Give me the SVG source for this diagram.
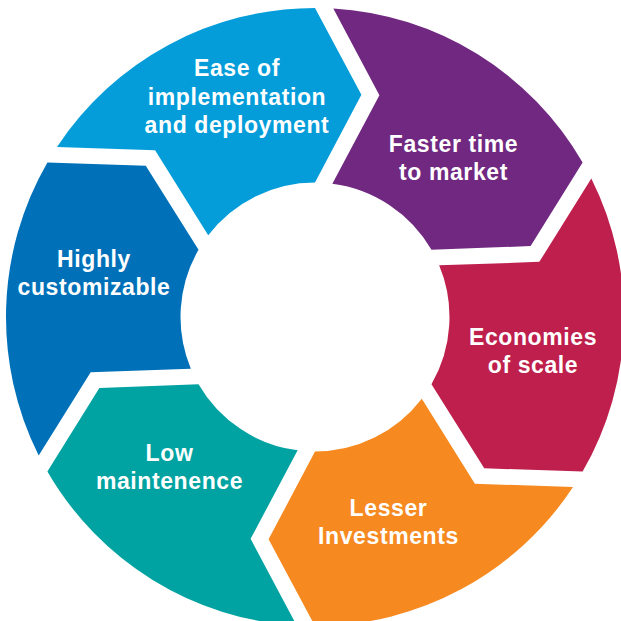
<svg xmlns="http://www.w3.org/2000/svg" xmlns:xlink="http://www.w3.org/1999/xlink" width="621" height="621" viewBox="0 0 621 621">
  <style>
    .lbl { font-family: "Liberation Sans", Arial, sans-serif; font-weight: bold; font-size: 23px; fill: #ffffff; text-anchor: middle; letter-spacing: 0.6px; }
  </style>
  <defs>
    <path id="seg" d="M315,8 L361.4,94.8 L315,182.5 A134.5,134.5 0 0 0 208.2,235.3 L155.1,150.3 L57,146.9 A309,309 0 0 1 315,8 Z"/>
  </defs>
  <rect width="621" height="621" fill="#ffffff"/>
  <g id="connectors"/>
  <g id="ease">
    <use href="#seg" xlink:href="#seg" fill="#049DDA"/>
    <text class="lbl" x="237" y="76">Ease of</text>
    <text class="lbl" x="237" y="104.5">implementation</text>
    <text class="lbl" x="237" y="133">and deployment</text>
  </g>
  <g id="faster">
    <use href="#seg" xlink:href="#seg" fill="#702880" transform="rotate(60 315 317)"/>
    <text class="lbl" x="453.5" y="151.5">Faster time</text>
    <text class="lbl" x="453.5" y="179.5">to market</text>
  </g>
  <g id="economies">
    <use href="#seg" xlink:href="#seg" fill="#BE1F4C" transform="rotate(120 315 317)"/>
    <text class="lbl" x="533" y="345">Economies</text>
    <text class="lbl" x="533" y="373">of scale</text>
  </g>
  <g id="lesser">
    <use href="#seg" xlink:href="#seg" fill="#F6891F" transform="rotate(180 315 317)"/>
    <text class="lbl" x="388.5" y="516">Lesser</text>
    <text class="lbl" x="388.5" y="544">Investments</text>
  </g>
  <g id="low">
    <use href="#seg" xlink:href="#seg" fill="#00A3A1" transform="rotate(240 315 317)"/>
    <text class="lbl" x="169.5" y="461">Low</text>
    <text class="lbl" x="169.5" y="489">maintenence</text>
  </g>
  <g id="highly">
    <use href="#seg" xlink:href="#seg" fill="#0071B9" transform="rotate(300 315 317)"/>
    <text class="lbl" x="94" y="266.5">Highly</text>
    <text class="lbl" x="94" y="295">customizable</text>
  </g>
</svg>
